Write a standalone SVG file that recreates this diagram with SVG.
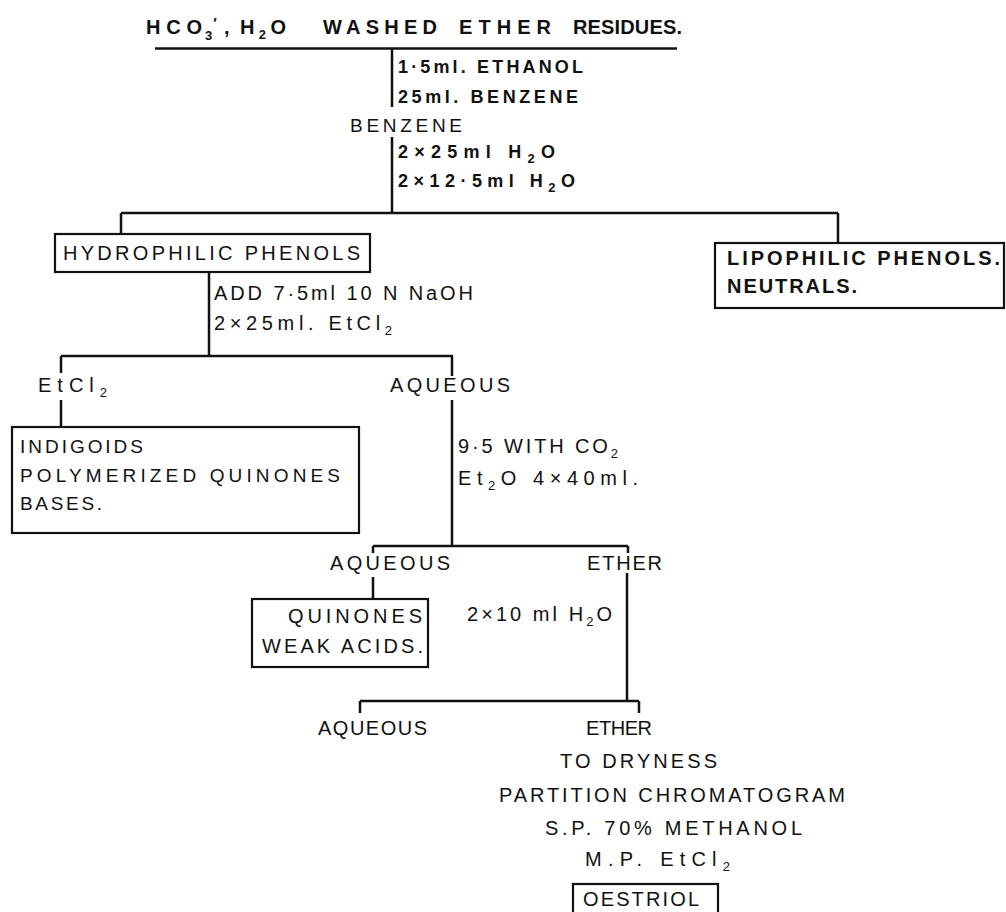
<svg xmlns="http://www.w3.org/2000/svg" width="1006" height="912" viewBox="0 0 1006 912">
<style>
.t{font-family:"Liberation Sans",Arial,sans-serif;font-size:20px;fill:#111;}
.b{font-weight:bold;}
.s{font-size:18px;}
.m{font-size:19px;}
.sub{font-size:13px;baseline-shift:-5px;}
.ln{stroke:#111;stroke-width:2.5;fill:none;}
.box{stroke:#111;stroke-width:2.2;fill:none;}
</style>
<rect width="1006" height="912" fill="#fff"/>
<g id="title">
<text class="t b" x="146" y="34" textLength="56" lengthAdjust="spacing">HCO</text>
<text class="t b" x="205" y="40" style="font-size:13px">3<tspan dx="1" baseline-shift="12" style="font-size:15px">′</tspan></text>
<text class="t b" x="224" y="34">,</text>
<text class="t b" x="240" y="34" textLength="46" lengthAdjust="spacing">H<tspan class="sub">2</tspan>O</text>
<text class="t b" x="323" y="34" textLength="114" lengthAdjust="spacing">WASHED</text>
<text class="t b" x="459" y="34" textLength="92" lengthAdjust="spacing">ETHER</text>
<text class="t b" x="573" y="34" textLength="109" lengthAdjust="spacing">RESIDUES.</text>
</g>
<g id="connectors">
<path class="ln" d="M155 48.5H677"/>
<path class="ln" d="M392 48V107M392 137V213"/>
<path class="ln" d="M121 213H838M121 213V234M838 213V243"/>
<path class="ln" d="M209 272V356M61 356H453M61 356V373M61 400V427M452 356V376M452 400V546"/>
<path class="ln" d="M373 546H628M373 546V553M628 546V553M373 577V599"/>
<path class="ln" d="M627 573V701M360 701H639M360 701V713M639 701V713"/>
</g>
<g id="steps-top">
<text class="t b s" x="398" y="73" textLength="185" lengthAdjust="spacing">1·5ml. ETHANOL</text>
<text class="t b s" x="398" y="103" textLength="180" lengthAdjust="spacing">25ml. BENZENE</text>
<text class="t m" x="350" y="132" textLength="112" lengthAdjust="spacing">BENZENE</text>
<text class="t b s" x="398" y="158" textLength="157" lengthAdjust="spacing">2×25ml  H<tspan class="sub">2</tspan>O</text>
<text class="t b s" x="398" y="187" textLength="177" lengthAdjust="spacing">2×12·5ml  H<tspan class="sub">2</tspan>O</text>
</g>
<g id="hydrophilic">
<rect class="box" x="55" y="234" width="315" height="38"/>
<text class="t" x="63" y="260" textLength="297" lengthAdjust="spacing">HYDROPHILIC PHENOLS</text>
</g>
<g id="lipophilic">
<rect class="box" x="715" y="243" width="289" height="65"/>
<text class="t b" x="727" y="265" textLength="273" lengthAdjust="spacing">LIPOPHILIC  PHENOLS.</text>
<text class="t b" x="727" y="293" textLength="130" lengthAdjust="spacing">NEUTRALS.</text>
</g>
<g id="step-naoh">
<text class="t" x="214" y="300" textLength="259" lengthAdjust="spacing">ADD 7·5ml 10 N NaOH</text>
<text class="t" x="214" y="330" textLength="178" lengthAdjust="spacing">2×25ml. EtCl<tspan class="sub">2</tspan></text>
</g>
<g id="etcl2">
<text class="t" x="38" y="392" textLength="69" lengthAdjust="spacing">EtCl<tspan class="sub">2</tspan></text>
</g>
<g id="aqueous1">
<text class="t" x="390" y="392" textLength="120" lengthAdjust="spacing">AQUEOUS</text>
</g>
<g id="indigoids">
<rect class="box" x="12" y="427" width="347" height="106"/>
<text class="t m" x="20" y="453" textLength="123" lengthAdjust="spacing">INDIGOIDS</text>
<text class="t m" x="20" y="482" textLength="320" lengthAdjust="spacing">POLYMERIZED  QUINONES</text>
<text class="t m" x="20" y="510" textLength="82" lengthAdjust="spacing">BASES.</text>
</g>
<g id="step-co2">
<text class="t" x="458" y="453" textLength="160" lengthAdjust="spacing">9·5 WITH CO<tspan class="sub">2</tspan></text>
<text class="t" x="458" y="485" textLength="180" lengthAdjust="spacing">Et<tspan class="sub">2</tspan>O  4×40ml.</text>
</g>
<g id="aqueous2">
<text class="t" x="330" y="570" textLength="120" lengthAdjust="spacing">AQUEOUS</text>
</g>
<g id="ether1">
<text class="t" x="587" y="570" textLength="75" lengthAdjust="spacing">ETHER</text>
</g>
<g id="quinones">
<rect class="box" x="252" y="599" width="176" height="68"/>
<text class="t" x="288" y="623" textLength="134" lengthAdjust="spacing">QUINONES</text>
<text class="t" x="262" y="653" textLength="161" lengthAdjust="spacing">WEAK  ACIDS.</text>
</g>
<g id="step-wash">
<text class="t" x="467" y="621" textLength="145" lengthAdjust="spacing">2×10 ml H<tspan class="sub">2</tspan>O</text>
</g>
<g id="aqueous3">
<text class="t" x="318" y="735" textLength="109" lengthAdjust="spacing">AQUEOUS</text>
</g>
<g id="ether2">
<text class="t" x="586" y="735" textLength="66" lengthAdjust="spacing">ETHER</text>
<text class="t" x="560" y="768" textLength="157" lengthAdjust="spacing">TO  DRYNESS</text>
<text class="t" x="499" y="802" textLength="346" lengthAdjust="spacing">PARTITION  CHROMATOGRAM</text>
<text class="t" x="545" y="835" textLength="257" lengthAdjust="spacing">S.P. 70% METHANOL</text>
<text class="t" x="585" y="866" textLength="145" lengthAdjust="spacing">M.P.  EtCl<tspan class="sub">2</tspan></text>
</g>
<g id="oestriol">
<rect class="box" x="573" y="884" width="145" height="40"/>
<text class="t" x="583" y="906" textLength="116" lengthAdjust="spacing">OESTRIOL</text>
</g>
</svg>
